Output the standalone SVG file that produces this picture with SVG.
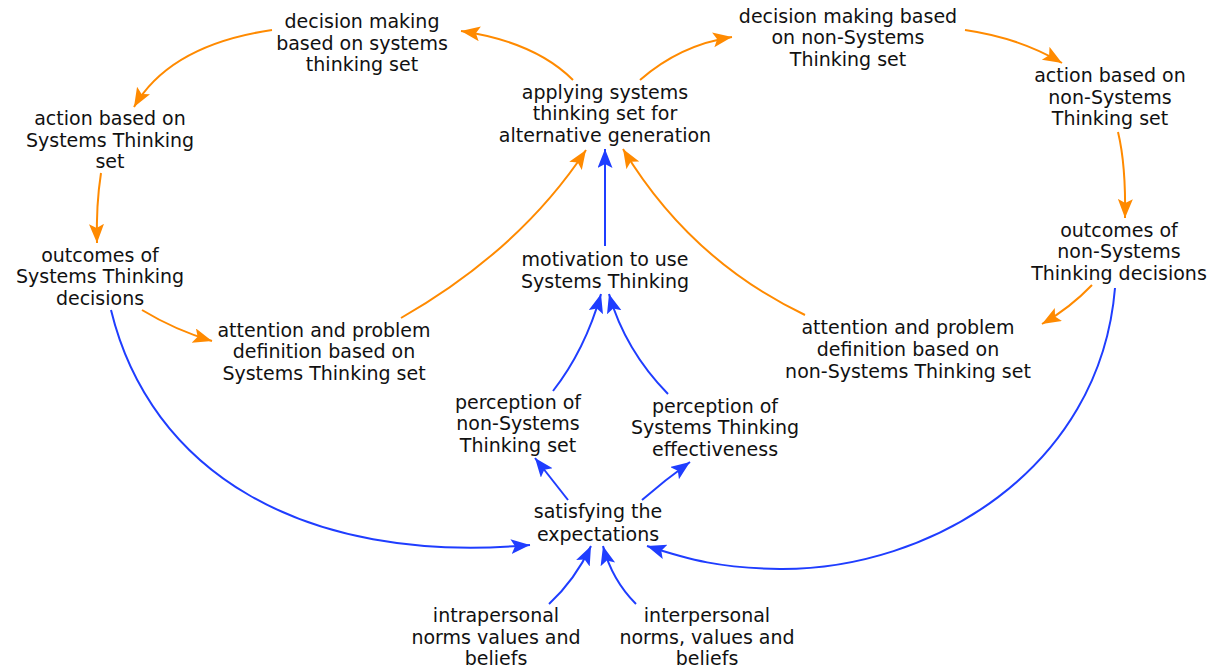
<svg xmlns="http://www.w3.org/2000/svg" width="1221" height="670" viewBox="0 0 1221 670">
<style>
text{font-family:"DejaVu Sans","Verdana",sans-serif;font-size:19px;fill:#111;text-anchor:middle}
.o{fill:none;stroke:#ff8a00;stroke-width:2;marker-end:url(#ao)}
.b{fill:none;stroke:#1f3dff;stroke-width:2;marker-end:url(#ab)}
</style>
<defs>
<marker id="ao" markerUnits="userSpaceOnUse" markerWidth="22" markerHeight="17" refX="19" refY="7.5" orient="auto"><path d="M0,0 L19,7.5 L0,15 L4,7.5 Z" fill="#ff8a00"/></marker>
<marker id="ab" markerUnits="userSpaceOnUse" markerWidth="22" markerHeight="17" refX="19" refY="7.5" orient="auto"><path d="M0,0 L19,7.5 L0,15 L4,7.5 Z" fill="#1f3dff"/></marker>
</defs>
<rect width="1221" height="670" fill="#fff"/>
<g id="connectors">
<path class="o" d="M573,80 Q535,42 461,31"/>
<path class="o" d="M272,30 Q170,45 134,107"/>
<path class="o" d="M101,173 Q96,205 97,243"/>
<path class="o" d="M142,310 Q175,330 212,341"/>
<path class="o" d="M401,318 Q520,250 586,150"/>
<path class="b" d="M605,246 L605,149"/>
<path class="o" d="M805,315 Q690,260 623,149"/>
<path class="o" d="M640,80 Q680,45 732,37"/>
<path class="o" d="M965,30 Q1020,38 1062,63"/>
<path class="o" d="M1118,132 Q1126,165 1125,218"/>
<path class="o" d="M1092,285 Q1070,308 1042,324"/>
<path class="b" d="M111,310 C150,470 300,565 530,545"/>
<path class="b" d="M1115,288 C1100,470 930,570 780,569 C720,568 690,560 647,546"/>
<path class="b" d="M553,391 Q585,350 601,294"/>
<path class="b" d="M668,394 Q625,350 609,294"/>
<path class="b" d="M568,500 L535,458"/>
<path class="b" d="M642,500 Q665,480 690,462"/>
<path class="b" d="M549,604 Q575,580 591,546"/>
<path class="b" d="M636,604 Q612,580 603,546"/>
</g>
<g id="decision-st"><text x="362" y="28">decision making</text><text x="362" y="49.5">based on systems</text><text x="362" y="71">thinking set</text></g>
<g id="action-st"><text x="110" y="125">action based on</text><text x="110" y="147">Systems Thinking</text><text x="110" y="168">set</text></g>
<g id="applying"><text x="605" y="99">applying systems</text><text x="605" y="120">thinking set for</text><text x="605" y="142">alternative generation</text></g>
<g id="decision-nst"><text x="848" y="23">decision making based</text><text x="848" y="44">on non-Systems</text><text x="848" y="66">Thinking set</text></g>
<g id="action-nst"><text x="1110" y="82">action based on</text><text x="1110" y="104">non-Systems</text><text x="1110" y="125">Thinking set</text></g>
<g id="outcomes-nst"><text x="1119" y="237">outcomes of</text><text x="1119" y="258">non-Systems</text><text x="1119" y="280">Thinking decisions</text></g>
<g id="outcomes-st"><text x="100" y="262">outcomes of</text><text x="100" y="283">Systems Thinking</text><text x="100" y="305">decisions</text></g>
<g id="attention-st"><text x="324" y="337">attention and problem</text><text x="324" y="358">definition based on</text><text x="324" y="380">Systems Thinking set</text></g>
<g id="motivation"><text x="605" y="266">motivation to use</text><text x="605" y="288">Systems Thinking</text></g>
<g id="perception-nst"><text x="518" y="409">perception of</text><text x="518" y="430">non-Systems</text><text x="518" y="452">Thinking set</text></g>
<g id="perception-st"><text x="715" y="413">perception of</text><text x="715" y="434">Systems Thinking</text><text x="715" y="456">effectiveness</text></g>
<g id="attention-nst"><text x="908" y="334">attention and problem</text><text x="908" y="356">definition based on</text><text x="908" y="378">non-Systems Thinking set</text></g>
<g id="satisfying"><text x="598" y="518">satisfying the</text><text x="598" y="541">expectations</text></g>
<g id="intrapersonal"><text x="496" y="622">intrapersonal</text><text x="496" y="644">norms values and</text><text x="496" y="665">beliefs</text></g>
<g id="interpersonal"><text x="707" y="622">interpersonal</text><text x="707" y="644">norms, values and</text><text x="707" y="665">beliefs</text></g>
</svg>
